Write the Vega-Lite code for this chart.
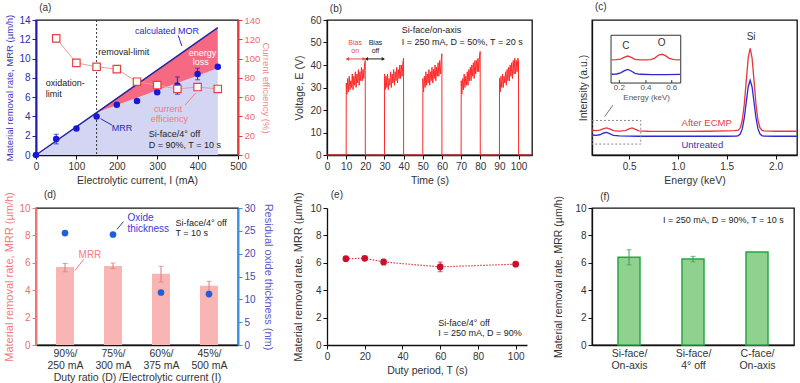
{
  "$schema": "https://vega.github.io/schema/vega-lite/v6.json",
  "background": "white",
  "padding": {"left": 3, "top": 1, "right": 2, "bottom": 0},
  "columns": 3,
  "align": "each",
  "bounds": "full",
  "spacing": {"row": 2, "column": 18},
  "config": {
    "font": "Liberation Sans",
    "view": {"stroke": "#111", "strokeWidth": 1.3},
    "axis": {"grid": false, "labelFontSize": 10, "titleFontSize": 10.5, "titleFontWeight": "normal", "tickSize": 4, "labelPadding": 2, "titlePadding": 4, "domainColor": "#111", "tickColor": "#111", "labelColor": "#333", "titleColor": "#333", "domainWidth": 1.3, "labelFlush": false, "labelOverlap": false, "tickCount": 30},
    "text": {"fontSize": 9, "font": "Liberation Sans"}
  },
  "concat": [
    {
      "width": 202, "height": 135,
      "encoding": {"x": {"field": "x", "type": "quantitative", "title": "Electrolytic current, I (mA)", "scale": {"domain": [0, 500], "nice": false}, "axis": {"values": [0, 100, 200, 300, 400, 500], "format": "d", "tickCount": 30}}},
      "layer": [
        {"layer": [
          {"data": {"values": [{"x": 0, "y": 0, "y2": 0}, {"x": 150, "y": 4.4, "y2": 4.4}, {"x": 450, "y": 9.0, "y2": 13.2}]},
           "layer": [
             {"mark": {"type": "area", "color": "#d3d5f3"}, "encoding": {"y": {"field": "y", "type": "quantitative", "title": "Material removal rate, MRR (µm/h)", "scale": {"domain": [0, 14], "nice": false}, "axis": {"values": [0, 2, 4, 6, 8, 10, 12, 14], "format": "d", "tickCount": 30, "titleFontSize": 9.5, "titleColor": "#3a3ac4", "labelColor": "#2a2ab4", "domainColor": "#1e1ea8", "tickColor": "#1e1ea8", "domainWidth": 2, "labelOverlap": false}}}},
             {"mark": {"type": "area", "color": "#f56a82"}, "encoding": {"y": {"field": "y", "type": "quantitative", "title": "Material removal rate, MRR (µm/h)"}, "y2": {"field": "y2"}}},
             {"mark": {"type": "line", "color": "#24249c", "strokeWidth": 1.5}, "encoding": {"y": {"field": "y2", "type": "quantitative", "title": "Material removal rate, MRR (µm/h)"}}}
           ]},
          {"data": {"values": [{"x": 150}]}, "mark": {"type": "rule", "color": "#333", "strokeDash": [2, 2], "strokeWidth": 1}, "encoding": {}},
          {"data": {"values": [{"x": 50, "lo": 1.15, "hi": 2.15}, {"x": 250, "lo": 5.45, "hi": 5.75}, {"x": 300, "lo": 6.35, "hi": 6.65}, {"x": 350, "lo": 6.3, "hi": 8.1}, {"x": 400, "lo": 7.8, "hi": 9.0}]},
           "mark": {"type": "errorbar", "color": "#2020c8", "ticks": true},
           "encoding": {"y": {"field": "lo", "type": "quantitative", "title": "Material removal rate, MRR (µm/h)"}, "y2": {"field": "hi"}}},
          {"data": {"values": [{"x": 0, "y": 0}, {"x": 50, "y": 1.65}, {"x": 100, "y": 2.75}, {"x": 150, "y": 4.0}, {"x": 200, "y": 5.2}, {"x": 250, "y": 5.6}, {"x": 300, "y": 6.5}, {"x": 350, "y": 7.2}, {"x": 400, "y": 8.4}, {"x": 450, "y": 9.15}]},
           "mark": {"type": "circle", "size": 42, "color": "#1818d8", "opacity": 1},
           "encoding": {"y": {"field": "y", "type": "quantitative", "title": "Material removal rate, MRR (µm/h)"}}},
          {"data": {"values": [{"x": 352, "y": 12.4, "x2": 361, "y2": 11.3}, {"x": 188, "y": 3.1, "x2": 160, "y2": 3.76}]},
           "mark": {"type": "rule", "color": "#2a2ab0", "strokeWidth": 1},
           "encoding": {"y": {"field": "y", "type": "quantitative", "title": "Material removal rate, MRR (µm/h)"}, "x2": {"field": "x2"}, "y2": {"field": "y2"}}},
          {"data": {"values": [{"x": 369, "y": 5.17, "x2": 395, "y2": 6.41}]},
           "mark": {"type": "rule", "color": "#f08080", "strokeWidth": 1},
           "encoding": {"y": {"field": "y", "type": "quantitative", "title": "Material removal rate, MRR (µm/h)"}, "x2": {"field": "x2"}, "y2": {"field": "y2"}}},
          {"data": {"values": [{"x": 324, "y": 12.85, "t": "calculated MOR"}, {"x": 213, "y": 2.83, "t": "MRR"}]},
           "mark": {"type": "text", "color": "#2626c8", "align": "center"},
           "encoding": {"y": {"field": "y", "type": "quantitative", "title": "Material removal rate, MRR (µm/h)"}, "text": {"field": "t"}}},
          {"data": {"values": [{"x": 217, "y": 10.65, "t": "removal-limit"}]},
           "mark": {"type": "text", "color": "#222", "align": "center"},
           "encoding": {"y": {"field": "y", "type": "quantitative", "title": "Material removal rate, MRR (µm/h)"}, "text": {"field": "t"}}},
          {"data": {"values": [{"x": 24, "y": 7.5, "t": "oxidation-"}, {"x": 24, "y": 6.35, "t": "limit"}, {"x": 279, "y": 2.14, "t": "Si-face/4° off"}, {"x": 279, "y": 1.0, "t": "D = 90%, T = 10 s"}]},
           "mark": {"type": "text", "color": "#222", "align": "left"},
           "encoding": {"y": {"field": "y", "type": "quantitative", "title": "Material removal rate, MRR (µm/h)"}, "text": {"field": "t"}}},
          {"data": {"values": [{"x": 412, "y": 10.6, "t": "energy"}, {"x": 408, "y": 9.6, "t": "loss"}]},
           "mark": {"type": "text", "color": "#ffffff", "align": "center"},
           "encoding": {"y": {"field": "y", "type": "quantitative", "title": "Material removal rate, MRR (µm/h)"}, "text": {"field": "t"}}},
          {"data": {"values": [{"x": 327, "y": 4.8, "t": "current"}, {"x": 330, "y": 3.77, "t": "efficiency"}]},
           "mark": {"type": "text", "color": "#f07a7a", "align": "center"},
           "encoding": {"y": {"field": "y", "type": "quantitative", "title": "Material removal rate, MRR (µm/h)"}, "text": {"field": "t"}}},
          {"data": {"values": [{"x": 8, "y": 15.25, "t": "(a)"}]},
           "mark": {"type": "text", "color": "#333", "align": "left", "fontSize": 10},
           "encoding": {"y": {"field": "y", "type": "quantitative", "title": "Material removal rate, MRR (µm/h)"}, "text": {"field": "t"}}}
        ]},
        {"layer": [
          {"data": {"values": [{"x": 50, "ce": 121}, {"x": 100, "ce": 95.5}, {"x": 150, "ce": 91.5}, {"x": 200, "ce": 89}, {"x": 250, "ce": 76}, {"x": 300, "ce": 72.5}, {"x": 350, "ce": 68.5}, {"x": 400, "ce": 70.5}, {"x": 450, "ce": 68.5}]},
           "encoding": {"y": {"field": "ce", "type": "quantitative", "title": "Current efficiency (%)", "scale": {"domain": [0, 140], "nice": false}, "axis": {"orient": "right", "values": [0, 20, 40, 60, 80, 100, 120, 140], "format": "d", "tickCount": 30, "titleFontSize": 9.5, "labelFontSize": 9.5, "titlePadding": 1, "titleColor": "#f08c8c", "labelColor": "#ec6a6a", "domainColor": "#e23a3a", "tickColor": "#e23a3a", "domainWidth": 2}}},
           "layer": [
             {"mark": {"type": "line", "color": "#f09a9a", "strokeWidth": 1}, "encoding": {}},
             {"mark": {"type": "square", "size": 55, "fill": "white", "stroke": "#e4403f", "strokeWidth": 1.2, "opacity": 1}, "encoding": {}}
           ]}
        ]}
      ],
      "resolve": {"scale": {"y": "independent"}}
    },
    {
      "width": 205, "height": 135,
      "encoding": {"x": {"field": "x", "type": "quantitative", "title": "Time (s)", "scale": {"domain": [0, 107], "nice": false}, "axis": {"values": [0, 10, 20, 30, 40, 50, 60, 70, 80, 90, 100], "format": "d", "tickCount": 30}}},
      "layer": [
        {"data": {"values": [
          {"x": 0, "y": 0}, {"x": 10, "y": 0},
          {"x": 10.05, "y": 32}, {"x": 10.4, "y": 27}, {"x": 10.8, "y": 34}, {"x": 11.2, "y": 28}, {"x": 11.6, "y": 35}, {"x": 12, "y": 29}, {"x": 12.4, "y": 33}, {"x": 12.8, "y": 30}, {"x": 13.2, "y": 36}, {"x": 13.6, "y": 29}, {"x": 14, "y": 35}, {"x": 14.4, "y": 31}, {"x": 14.8, "y": 37}, {"x": 15.2, "y": 30}, {"x": 15.6, "y": 36}, {"x": 16, "y": 32}, {"x": 16.4, "y": 38}, {"x": 16.8, "y": 31}, {"x": 17.2, "y": 37}, {"x": 17.6, "y": 33}, {"x": 18, "y": 39}, {"x": 18.4, "y": 33}, {"x": 18.8, "y": 38}, {"x": 19.2, "y": 34}, {"x": 19.6, "y": 40}, {"x": 19.95, "y": 42},
          {"x": 20, "y": 0}, {"x": 30, "y": 0},
          {"x": 30.05, "y": 36}, {"x": 30.4, "y": 29}, {"x": 30.8, "y": 35}, {"x": 31.2, "y": 30}, {"x": 31.6, "y": 36}, {"x": 32, "y": 29}, {"x": 32.4, "y": 34}, {"x": 32.8, "y": 31}, {"x": 33.2, "y": 37}, {"x": 33.6, "y": 30}, {"x": 34, "y": 36}, {"x": 34.4, "y": 32}, {"x": 34.8, "y": 38}, {"x": 35.2, "y": 31}, {"x": 35.6, "y": 37}, {"x": 36, "y": 33}, {"x": 36.4, "y": 39}, {"x": 36.8, "y": 32}, {"x": 37.2, "y": 38}, {"x": 37.6, "y": 34}, {"x": 38, "y": 40}, {"x": 38.4, "y": 34}, {"x": 38.8, "y": 40}, {"x": 39.2, "y": 35}, {"x": 39.6, "y": 41}, {"x": 39.95, "y": 43},
          {"x": 40, "y": 0}, {"x": 50, "y": 0},
          {"x": 50.05, "y": 34}, {"x": 50.4, "y": 28}, {"x": 50.8, "y": 35}, {"x": 51.2, "y": 30}, {"x": 51.6, "y": 37}, {"x": 52, "y": 31}, {"x": 52.4, "y": 36}, {"x": 52.8, "y": 32}, {"x": 53.2, "y": 38}, {"x": 53.6, "y": 31}, {"x": 54, "y": 37}, {"x": 54.4, "y": 33}, {"x": 54.8, "y": 39}, {"x": 55.2, "y": 32}, {"x": 55.6, "y": 38}, {"x": 56, "y": 34}, {"x": 56.4, "y": 40}, {"x": 56.8, "y": 33}, {"x": 57.2, "y": 39}, {"x": 57.6, "y": 35}, {"x": 58, "y": 41}, {"x": 58.4, "y": 35}, {"x": 58.8, "y": 42}, {"x": 59.2, "y": 36}, {"x": 59.6, "y": 42}, {"x": 59.95, "y": 45},
          {"x": 60, "y": 0}, {"x": 70, "y": 0},
          {"x": 70.05, "y": 33}, {"x": 70.4, "y": 27}, {"x": 70.8, "y": 34}, {"x": 71.2, "y": 29}, {"x": 71.6, "y": 36}, {"x": 72, "y": 30}, {"x": 72.4, "y": 35}, {"x": 72.8, "y": 31}, {"x": 73.2, "y": 37}, {"x": 73.6, "y": 31}, {"x": 74, "y": 38}, {"x": 74.4, "y": 33}, {"x": 74.8, "y": 39}, {"x": 75.2, "y": 33}, {"x": 75.6, "y": 40}, {"x": 76, "y": 35}, {"x": 76.4, "y": 41}, {"x": 76.8, "y": 34}, {"x": 77.2, "y": 42}, {"x": 77.6, "y": 36}, {"x": 78, "y": 42}, {"x": 78.4, "y": 37}, {"x": 78.8, "y": 43}, {"x": 79.2, "y": 37}, {"x": 79.6, "y": 44}, {"x": 79.95, "y": 46},
          {"x": 80, "y": 0}, {"x": 90, "y": 0},
          {"x": 90.05, "y": 34}, {"x": 90.4, "y": 28}, {"x": 90.8, "y": 35}, {"x": 91.2, "y": 30}, {"x": 91.6, "y": 36}, {"x": 92, "y": 30}, {"x": 92.4, "y": 35}, {"x": 92.8, "y": 32}, {"x": 93.2, "y": 37}, {"x": 93.6, "y": 31}, {"x": 94, "y": 38}, {"x": 94.4, "y": 33}, {"x": 94.8, "y": 39}, {"x": 95.2, "y": 33}, {"x": 95.6, "y": 40}, {"x": 96, "y": 35}, {"x": 96.4, "y": 41}, {"x": 96.8, "y": 34}, {"x": 97.2, "y": 42}, {"x": 97.6, "y": 36}, {"x": 98, "y": 43}, {"x": 98.4, "y": 36}, {"x": 98.8, "y": 42}, {"x": 99.2, "y": 37}, {"x": 99.6, "y": 43}, {"x": 99.95, "y": 42},
          {"x": 100, "y": 0}, {"x": 107, "y": 0}
        ]},
         "mark": {"type": "line", "color": "#ff2a2a", "strokeWidth": 1},
         "encoding": {"y": {"field": "y", "type": "quantitative", "title": "Voltage, E (V)", "scale": {"domain": [0, 60], "nice": false}, "axis": {"values": [0, 10, 20, 30, 40, 50, 60], "format": "d", "tickCount": 30, "titlePadding": 5}}}},
        {"data": {"values": [{"x": 10.3, "x2": 19.7, "y": 42.7}]},
         "mark": {"type": "rule", "color": "#e84848", "strokeWidth": 1},
         "encoding": {"y": {"field": "y", "type": "quantitative", "title": "Voltage, E (V)"}, "x2": {"field": "x2"}}},
        {"data": {"values": [{"x": 20.3, "x2": 29.7, "y": 42.7}]},
         "mark": {"type": "rule", "color": "#222", "strokeWidth": 1},
         "encoding": {"y": {"field": "y", "type": "quantitative", "title": "Voltage, E (V)"}, "x2": {"field": "x2"}}},
        {"data": {"values": [{"x": 10.6, "y": 42.7}]},
         "mark": {"type": "point", "shape": "triangle-left", "size": 14, "filled": true, "color": "#e84848", "opacity": 1},
         "encoding": {"y": {"field": "y", "type": "quantitative", "title": "Voltage, E (V)"}}},
        {"data": {"values": [{"x": 19.4, "y": 42.7}]},
         "mark": {"type": "point", "shape": "triangle-right", "size": 14, "filled": true, "color": "#e84848", "opacity": 1},
         "encoding": {"y": {"field": "y", "type": "quantitative", "title": "Voltage, E (V)"}}},
        {"data": {"values": [{"x": 20.6, "y": 42.7}]},
         "mark": {"type": "point", "shape": "triangle-left", "size": 14, "filled": true, "color": "#222", "opacity": 1},
         "encoding": {"y": {"field": "y", "type": "quantitative", "title": "Voltage, E (V)"}}},
        {"data": {"values": [{"x": 29.4, "y": 42.7}]},
         "mark": {"type": "point", "shape": "triangle-right", "size": 14, "filled": true, "color": "#222", "opacity": 1},
         "encoding": {"y": {"field": "y", "type": "quantitative", "title": "Voltage, E (V)"}}},
        {"data": {"values": [{"x": 39, "y": 55.5, "t": "Si-face/on-axis"}, {"x": 39, "y": 50.4, "t": "I = 250 mA, D = 50%, T = 20 s"}]},
         "mark": {"type": "text", "color": "#222", "align": "left"},
         "encoding": {"y": {"field": "y", "type": "quantitative", "title": "Voltage, E (V)"}, "text": {"field": "t"}}},
        {"data": {"values": [{"x": 14.7, "y": 49.6, "t": "Bias"}, {"x": 14.7, "y": 46.3, "t": "on"}]},
         "mark": {"type": "text", "color": "#e84848", "align": "center", "fontSize": 7},
         "encoding": {"y": {"field": "y", "type": "quantitative", "title": "Voltage, E (V)"}, "text": {"field": "t"}}},
        {"data": {"values": [{"x": 25.3, "y": 49.6, "t": "Bias"}, {"x": 25.3, "y": 46.3, "t": "off"}]},
         "mark": {"type": "text", "color": "#222", "align": "center", "fontSize": 7},
         "encoding": {"y": {"field": "y", "type": "quantitative", "title": "Voltage, E (V)"}, "text": {"field": "t"}}},
        {"data": {"values": [{"x": 1.5, "y": 65, "t": "(b)"}]},
         "mark": {"type": "text", "color": "#333", "align": "left", "fontSize": 10},
         "encoding": {"y": {"field": "y", "type": "quantitative", "title": "Voltage, E (V)"}, "text": {"field": "t"}}}
      ]
    },
    {
      "width": 205, "height": 135,
      "encoding": {"x": {"field": "x", "type": "quantitative", "title": "Energy (keV)", "scale": {"domain": [0.12, 2.22], "nice": false, "zero": false}, "axis": {"values": [0.5, 1, 1.5, 2], "format": ".1f", "tickCount": 30}}},
      "layer": [
        {"data": {"values": [
          {"x": 0.12, "y": 18.4, "s": "After ECMP"}, {"x": 0.16, "y": 18.0, "s": "After ECMP"}, {"x": 0.2, "y": 18.4, "s": "After ECMP"}, {"x": 0.24, "y": 19.6, "s": "After ECMP"}, {"x": 0.27, "y": 20.1, "s": "After ECMP"}, {"x": 0.3, "y": 19.3, "s": "After ECMP"}, {"x": 0.34, "y": 18.1, "s": "After ECMP"}, {"x": 0.4, "y": 17.7, "s": "After ECMP"}, {"x": 0.46, "y": 18.0, "s": "After ECMP"}, {"x": 0.5, "y": 19.4, "s": "After ECMP"}, {"x": 0.53, "y": 20.1, "s": "After ECMP"}, {"x": 0.56, "y": 19.2, "s": "After ECMP"}, {"x": 0.6, "y": 17.9, "s": "After ECMP"}, {"x": 0.7, "y": 17.6, "s": "After ECMP"}, {"x": 0.9, "y": 17.5, "s": "After ECMP"}, {"x": 1.1, "y": 17.5, "s": "After ECMP"}, {"x": 1.3, "y": 17.6, "s": "After ECMP"}, {"x": 1.5, "y": 17.8, "s": "After ECMP"}, {"x": 1.58, "y": 18.0, "s": "After ECMP"}, {"x": 1.62, "y": 18.4, "s": "After ECMP"}, {"x": 1.64, "y": 20.3, "s": "After ECMP"}, {"x": 1.66, "y": 25.9, "s": "After ECMP"}, {"x": 1.68, "y": 37.6, "s": "After ECMP"}, {"x": 1.7, "y": 54.9, "s": "After ECMP"}, {"x": 1.72, "y": 71.8, "s": "After ECMP"}, {"x": 1.74, "y": 79.0, "s": "After ECMP"}, {"x": 1.76, "y": 71.8, "s": "After ECMP"}, {"x": 1.78, "y": 54.9, "s": "After ECMP"}, {"x": 1.8, "y": 37.6, "s": "After ECMP"}, {"x": 1.82, "y": 25.9, "s": "After ECMP"}, {"x": 1.84, "y": 20.3, "s": "After ECMP"}, {"x": 1.86, "y": 18.4, "s": "After ECMP"}, {"x": 1.88, "y": 17.8, "s": "After ECMP"}, {"x": 2.0, "y": 17.6, "s": "After ECMP"}, {"x": 2.22, "y": 17.6, "s": "After ECMP"},
          {"x": 0.12, "y": 14.8, "s": "Untreated"}, {"x": 0.16, "y": 14.5, "s": "Untreated"}, {"x": 0.2, "y": 15.0, "s": "Untreated"}, {"x": 0.24, "y": 16.3, "s": "Untreated"}, {"x": 0.27, "y": 16.7, "s": "Untreated"}, {"x": 0.3, "y": 15.8, "s": "Untreated"}, {"x": 0.34, "y": 14.6, "s": "Untreated"}, {"x": 0.4, "y": 14.1, "s": "Untreated"}, {"x": 0.5, "y": 14.0, "s": "Untreated"}, {"x": 0.6, "y": 13.9, "s": "Untreated"}, {"x": 0.9, "y": 13.9, "s": "Untreated"}, {"x": 1.2, "y": 13.9, "s": "Untreated"}, {"x": 1.5, "y": 13.9, "s": "Untreated"}, {"x": 1.6, "y": 14.0, "s": "Untreated"}, {"x": 1.62, "y": 14.4, "s": "Untreated"}, {"x": 1.64, "y": 15.7, "s": "Untreated"}, {"x": 1.66, "y": 19.5, "s": "Untreated"}, {"x": 1.68, "y": 27.4, "s": "Untreated"}, {"x": 1.7, "y": 39.0, "s": "Untreated"}, {"x": 1.72, "y": 50.4, "s": "Untreated"}, {"x": 1.74, "y": 55.3, "s": "Untreated"}, {"x": 1.76, "y": 50.4, "s": "Untreated"}, {"x": 1.78, "y": 39.0, "s": "Untreated"}, {"x": 1.8, "y": 27.4, "s": "Untreated"}, {"x": 1.82, "y": 19.5, "s": "Untreated"}, {"x": 1.84, "y": 15.7, "s": "Untreated"}, {"x": 1.86, "y": 14.4, "s": "Untreated"}, {"x": 1.88, "y": 14.0, "s": "Untreated"}, {"x": 2.0, "y": 13.9, "s": "Untreated"}, {"x": 2.22, "y": 13.9, "s": "Untreated"}
        ]},
         "mark": {"type": "line", "strokeWidth": 1.3},
         "encoding": {"y": {"field": "y", "type": "quantitative", "title": "Intensity (a.u.)", "scale": {"domain": [0, 100], "nice": false}, "axis": {"ticks": false, "labels": false, "titleFontSize": 10.5}}, "color": {"field": "s", "type": "nominal", "scale": {"domain": ["After ECMP", "Untreated"], "range": ["#e8363e", "#2a2ad2"]}, "legend": null}}},
        {"data": {"values": [{"x": 0.12, "x2": 0.62, "y": 8.1, "y2": 25.6}]},
         "mark": {"type": "rect", "filled": false, "color": "#888", "strokeDash": [2, 2], "strokeWidth": 1},
         "encoding": {"y": {"field": "y", "type": "quantitative", "title": "Intensity (a.u.)"}, "x2": {"field": "x2"}, "y2": {"field": "y2"}}},
        {"data": {"values": [{"x": 0.315, "x2": 1.029, "y": 53.3, "y2": 88.7}]},
         "mark": {"type": "rect", "fill": "white", "stroke": "#333", "strokeWidth": 1},
         "encoding": {"y": {"field": "y", "type": "quantitative", "title": "Intensity (a.u.)"}, "x2": {"field": "x2"}, "y2": {"field": "y2"}}},
        {"data": {"values": [{"x": 0.4, "y": 53.3, "y2": 55.5}, {"x": 0.673, "y": 53.3, "y2": 55.5}, {"x": 0.937, "y": 53.3, "y2": 55.5}]},
         "mark": {"type": "rule", "color": "#333", "strokeWidth": 1},
         "encoding": {"y": {"field": "y", "type": "quantitative", "title": "Intensity (a.u.)"}, "y2": {"field": "y2"}}},
        {"data": {"values": [{"x": 0.25, "y": 28.5, "x2": 0.335, "y2": 37}]},
         "mark": {"type": "rule", "color": "#777", "strokeWidth": 1},
         "encoding": {"y": {"field": "y", "type": "quantitative", "title": "Intensity (a.u.)"}, "x2": {"field": "x2"}, "y2": {"field": "y2"}}},
        {"data": {"values": [
          {"x": 0.32, "y": 70.5, "s": "After ECMP"}, {"x": 0.373, "y": 70.6, "s": "After ECMP"}, {"x": 0.413, "y": 71.0, "s": "After ECMP"}, {"x": 0.454, "y": 72.5, "s": "After ECMP"}, {"x": 0.487, "y": 73.3, "s": "After ECMP"}, {"x": 0.521, "y": 72.3, "s": "After ECMP"}, {"x": 0.561, "y": 70.8, "s": "After ECMP"}, {"x": 0.614, "y": 70.4, "s": "After ECMP"}, {"x": 0.668, "y": 70.4, "s": "After ECMP"}, {"x": 0.722, "y": 70.6, "s": "After ECMP"}, {"x": 0.763, "y": 71.8, "s": "After ECMP"}, {"x": 0.802, "y": 74.0, "s": "After ECMP"}, {"x": 0.836, "y": 74.6, "s": "After ECMP"}, {"x": 0.869, "y": 73.8, "s": "After ECMP"}, {"x": 0.909, "y": 71.6, "s": "After ECMP"}, {"x": 0.963, "y": 70.6, "s": "After ECMP"}, {"x": 1.023, "y": 70.5, "s": "After ECMP"},
          {"x": 0.32, "y": 59.8, "s": "Untreated"}, {"x": 0.373, "y": 60.0, "s": "Untreated"}, {"x": 0.413, "y": 60.8, "s": "Untreated"}, {"x": 0.454, "y": 62.5, "s": "Untreated"}, {"x": 0.487, "y": 63.4, "s": "Untreated"}, {"x": 0.521, "y": 62.2, "s": "Untreated"}, {"x": 0.561, "y": 60.5, "s": "Untreated"}, {"x": 0.614, "y": 59.8, "s": "Untreated"}, {"x": 0.735, "y": 59.6, "s": "Untreated"}, {"x": 0.869, "y": 59.6, "s": "Untreated"}, {"x": 1.023, "y": 59.7, "s": "Untreated"}
        ]},
         "mark": {"type": "line", "strokeWidth": 1.3},
         "encoding": {"y": {"field": "y", "type": "quantitative", "title": "Intensity (a.u.)"}, "color": {"field": "s", "type": "nominal", "legend": null}}},
        {"data": {"values": [{"x": 0.4, "y": 49.5, "t": "0.2"}, {"x": 0.673, "y": 49.5, "t": "0.4"}, {"x": 0.937, "y": 49.5, "t": "0.6"}, {"x": 0.68, "y": 42, "t": "Energy (keV)"}]},
         "mark": {"type": "text", "color": "#555", "align": "center", "fontSize": 8},
         "encoding": {"y": {"field": "y", "type": "quantitative", "title": "Intensity (a.u.)"}, "text": {"field": "t"}}},
        {"data": {"values": [{"x": 0.468, "y": 81, "t": "C"}, {"x": 0.834, "y": 83, "t": "O"}, {"x": 1.75, "y": 87.4, "t": "Si"}]},
         "mark": {"type": "text", "color": "#333", "align": "center", "fontSize": 10},
         "encoding": {"y": {"field": "y", "type": "quantitative", "title": "Intensity (a.u.)"}, "text": {"field": "t"}}},
        {"data": {"values": [{"x": 1.295, "y": 23.9, "t": "After ECMP"}]},
         "mark": {"type": "text", "color": "#e04048", "align": "center", "fontSize": 9.5},
         "encoding": {"y": {"field": "y", "type": "quantitative", "title": "Intensity (a.u.)"}, "text": {"field": "t"}}},
        {"data": {"values": [{"x": 1.25, "y": 7.5, "t": "Untreated"}]},
         "mark": {"type": "text", "color": "#3535c0", "align": "center", "fontSize": 9.5},
         "encoding": {"y": {"field": "y", "type": "quantitative", "title": "Intensity (a.u.)"}, "text": {"field": "t"}}},
        {"data": {"values": [{"x": 0.15, "y": 109.6, "t": "(c)"}]},
         "mark": {"type": "text", "color": "#333", "align": "left", "fontSize": 10},
         "encoding": {"y": {"field": "y", "type": "quantitative", "title": "Intensity (a.u.)"}, "text": {"field": "t"}}}
      ]
    },
    {
      "width": 202, "height": 137,
      "encoding": {"x": {"field": "x", "type": "quantitative", "title": "Duty ratio (D) /Electrolytic current (I)", "scale": {"domain": [0.5, 4.5], "nice": false}, "axis": {"values": [1, 2, 3, 4], "tickCount": 30, "ticks": false, "labelPadding": 3, "labelFontSize": 10.5, "labelLineHeight": 12, "titlePadding": 2, "labelExpr": "datum.value == 1 ? ['90%/', '250 mA'] : datum.value == 2 ? ['75%/', '300 mA'] : datum.value == 3 ? ['60%/', '375 mA'] : ['45%/', '500 mA']"}}},
      "layer": [
        {"layer": [
          {"data": {"values": [{"x": 1, "y": 5.7, "lo": 5.35, "hi": 5.95}, {"x": 2, "y": 5.77, "lo": 5.58, "hi": 5.98}, {"x": 3, "y": 5.2, "lo": 4.6, "hi": 5.75}, {"x": 4, "y": 4.32, "lo": 3.92, "hi": 4.65}]},
           "layer": [
             {"mark": {"type": "bar", "size": 18, "color": "#f9b4b4"}, "encoding": {"y": {"field": "y", "type": "quantitative", "title": "Material removal rate, MRR (µm/h)", "scale": {"domain": [0, 10], "nice": false}, "axis": {"values": [0, 2, 4, 6, 8, 10], "format": "d", "tickCount": 30, "titleFontSize": 11, "titleColor": "#f07a7a", "labelColor": "#ee7070", "domainColor": "#f07878", "tickColor": "#f07878", "domainWidth": 2, "labelOverlap": false}}}},
             {"mark": {"type": "errorbar", "color": "#e07a7a", "ticks": true}, "encoding": {"y": {"field": "lo", "type": "quantitative", "title": "Material removal rate, MRR (µm/h)"}, "y2": {"field": "hi"}}}
           ]},
          {"data": {"values": [{"x": 2.3, "y": 9.27, "t": "Oxide"}, {"x": 2.3, "y": 8.47, "t": "thickness"}]},
           "mark": {"type": "text", "color": "#3a3ad0", "align": "left", "fontSize": 10},
           "encoding": {"y": {"field": "y", "type": "quantitative", "title": "Material removal rate, MRR (µm/h)"}, "text": {"field": "t"}}},
          {"data": {"values": [{"x": 2.216, "y": 9.0, "x2": 2.08, "y2": 8.43}]},
           "mark": {"type": "rule", "color": "#3a3ad0", "strokeWidth": 1},
           "encoding": {"y": {"field": "y", "type": "quantitative", "title": "Material removal rate, MRR (µm/h)"}, "x2": {"field": "x2"}, "y2": {"field": "y2"}}},
          {"data": {"values": [{"x": 1.39, "y": 6.25, "x2": 1.21, "y2": 5.45}]},
           "mark": {"type": "rule", "color": "#f08080", "strokeWidth": 1},
           "encoding": {"y": {"field": "y", "type": "quantitative", "title": "Material removal rate, MRR (µm/h)"}, "x2": {"field": "x2"}, "y2": {"field": "y2"}}},
          {"data": {"values": [{"x": 1.52, "y": 6.54, "t": "MRR"}]},
           "mark": {"type": "text", "color": "#f08080", "align": "center", "fontSize": 10},
           "encoding": {"y": {"field": "y", "type": "quantitative", "title": "Material removal rate, MRR (µm/h)"}, "text": {"field": "t"}}},
          {"data": {"values": [{"x": 3.3, "y": 8.9, "t": "Si-face/4° off"}, {"x": 3.3, "y": 8.16, "t": "T = 10 s"}]},
           "mark": {"type": "text", "color": "#222", "align": "left"},
           "encoding": {"y": {"field": "y", "type": "quantitative", "title": "Material removal rate, MRR (µm/h)"}, "text": {"field": "t"}}},
          {"data": {"values": [{"x": 0.56, "y": 10.97, "t": "(d)"}]},
           "mark": {"type": "text", "color": "#333", "align": "left", "fontSize": 10},
           "encoding": {"y": {"field": "y", "type": "quantitative", "title": "Material removal rate, MRR (µm/h)"}, "text": {"field": "t"}}}
        ]},
        {"layer": [
          {"data": {"values": [{"x": 1, "ot": 24.5}, {"x": 2, "ot": 24.2}, {"x": 3, "ot": 11.5}, {"x": 4, "ot": 11.15}]},
           "mark": {"type": "circle", "size": 45, "color": "#1f5fd8", "opacity": 1},
           "encoding": {"y": {"field": "ot", "type": "quantitative", "title": "Residual oxide thickness (nm)", "scale": {"domain": [0, 30], "nice": false}, "axis": {"orient": "right", "values": [0, 5, 10, 15, 20, 25, 30], "format": "d", "tickCount": 30, "titleFontSize": 11, "titlePadding": 7, "titleColor": "#5a5ad0", "labelColor": "#4848b0", "domainColor": "#3a92e0", "tickColor": "#3a92e0", "domainWidth": 2}}}}
        ]}
      ],
      "resolve": {"scale": {"y": "independent"}}
    },
    {
      "width": 200, "height": 137,
      "view": {"stroke": null},
      "encoding": {"x": {"field": "x", "type": "quantitative", "title": "Duty period, T (s)", "scale": {"domain": [0, 106], "nice": false}, "axis": {"values": [0, 20, 40, 60, 80, 100], "format": "d", "tickCount": 30}}},
      "layer": [
        {"data": {"values": [{"x": 10, "y": 6.3, "lo": 6.2, "hi": 6.4}, {"x": 20, "y": 6.33, "lo": 6.25, "hi": 6.41}, {"x": 30, "y": 6.06, "lo": 5.85, "hi": 6.25}, {"x": 60, "y": 5.7, "lo": 5.35, "hi": 6.05}, {"x": 100, "y": 5.9, "lo": 5.82, "hi": 5.98}]},
         "layer": [
           {"mark": {"type": "line", "color": "#e03a3a", "strokeDash": [1.5, 1.5], "strokeWidth": 1.2}, "encoding": {"y": {"field": "y", "type": "quantitative", "title": "Material removal rate, MRR (µm/h)", "scale": {"domain": [0, 10], "nice": false}, "axis": {"values": [0, 2, 4, 6, 8, 10], "format": "d", "tickCount": 30, "titleFontSize": 11, "titlePadding": 6, "labelOverlap": false}}}},
           {"mark": {"type": "errorbar", "color": "#d02030", "ticks": true}, "encoding": {"y": {"field": "lo", "type": "quantitative", "title": "Material removal rate, MRR (µm/h)"}, "y2": {"field": "hi"}}},
           {"mark": {"type": "circle", "size": 45, "color": "#c8102e", "opacity": 1}, "encoding": {"y": {"field": "y", "type": "quantitative", "title": "Material removal rate, MRR (µm/h)"}}}
         ]},
        {"data": {"values": [{"x": 59, "y": 1.57, "t": "Si-face/4° off"}, {"x": 59, "y": 0.9, "t": "I = 250 mA, D = 90%"}]},
         "mark": {"type": "text", "color": "#222", "align": "left"},
         "encoding": {"y": {"field": "y", "type": "quantitative", "title": "Material removal rate, MRR (µm/h)"}, "text": {"field": "t"}}},
        {"data": {"values": [{"x": 2, "y": 10.97, "t": "(e)"}]},
         "mark": {"type": "text", "color": "#333", "align": "left", "fontSize": 10},
         "encoding": {"y": {"field": "y", "type": "quantitative", "title": "Material removal rate, MRR (µm/h)"}, "text": {"field": "t"}}}
      ]
    },
    {
      "width": 202, "height": 137,
      "encoding": {"x": {"field": "x", "type": "quantitative", "title": null, "scale": {"domain": [0.5, 3.5], "nice": false}, "axis": {"values": [1, 2, 3], "tickCount": 30, "ticks": false, "labelPadding": 3, "labelFontSize": 10.5, "labelLineHeight": 12, "labelExpr": "datum.value == 1 ? ['Si-face/', 'On-axis'] : datum.value == 2 ? ['Si-face/', '4° off'] : ['C-face/', 'On-axis']"}}},
      "layer": [
        {"data": {"values": [{"x": 1, "y": 6.4, "lo": 5.85, "hi": 6.95}, {"x": 2, "y": 6.27, "lo": 6.07, "hi": 6.47}, {"x": 3, "y": 6.78}]},
         "layer": [
           {"mark": {"type": "bar", "size": 22, "color": "#90d190", "stroke": "#26a646", "strokeWidth": 1.5}, "encoding": {"y": {"field": "y", "type": "quantitative", "title": "Material removal rate, MRR (µm/h)", "scale": {"domain": [0, 10], "nice": false}, "axis": {"values": [0, 2, 4, 6, 8, 10], "format": "d", "tickCount": 30, "titleFontSize": 10.5, "titlePadding": 11, "labelOverlap": false}}}},
           {"transform": [{"filter": "isValid(datum.lo)"}], "mark": {"type": "errorbar", "color": "#35a050", "ticks": true}, "encoding": {"y": {"field": "lo", "type": "quantitative", "title": "Material removal rate, MRR (µm/h)"}, "y2": {"field": "hi"}}}
         ]},
        {"data": {"values": [{"x": 3.42, "y": 9.16, "t": "I = 250 mA, D = 90%, T = 10 s"}]},
         "mark": {"type": "text", "color": "#222", "align": "right"},
         "encoding": {"y": {"field": "y", "type": "quantitative", "title": "Material removal rate, MRR (µm/h)"}, "text": {"field": "t"}}},
        {"data": {"values": [{"x": 0.55, "y": 10.8, "t": "(f)"}]},
         "mark": {"type": "text", "color": "#333", "align": "left", "fontSize": 10},
         "encoding": {"y": {"field": "y", "type": "quantitative", "title": "Material removal rate, MRR (µm/h)"}, "text": {"field": "t"}}}
      ]
    }
  ]
}
